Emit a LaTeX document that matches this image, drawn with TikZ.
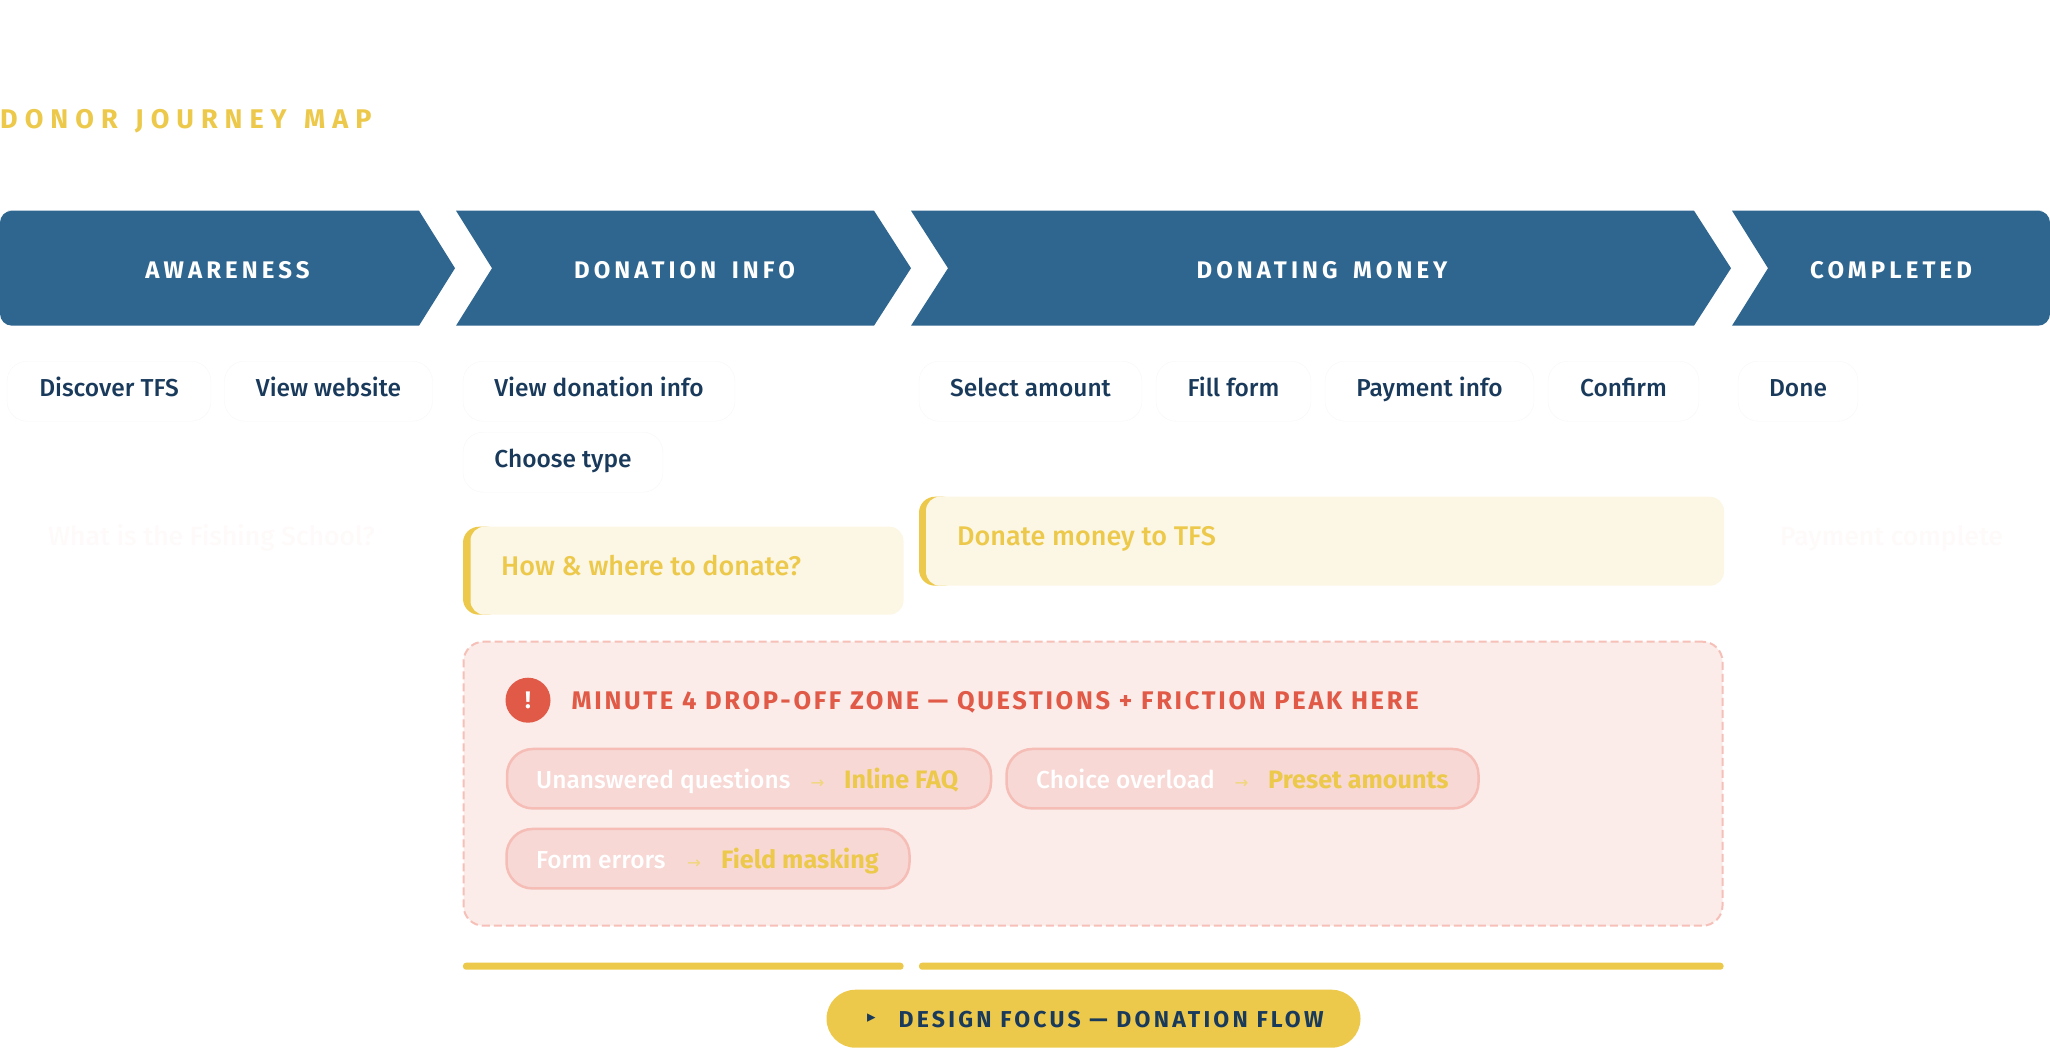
\documentclass[tikz,border=0pt]{standalone}
\usepackage{fontspec}
\usepackage{xcolor}
\usetikzlibrary{positioning}
\setmainfont{Fira Sans}
\newfontfamily\medfont{Fira Sans Medium}
\newfontfamily\symfont{DejaVu Sans}
\newfontfamily\titlefont[LetterSpace=26,WordSpace=1.3]{Fira Sans}
\newfontfamily\stagefont[LetterSpace=17,WordSpace=1.6]{Fira Sans}
\newfontfamily\zonefont[LetterSpace=10.5]{Fira Sans}
\newfontfamily\focusfont[LetterSpace=14]{Fira Sans}
\definecolor{primary}{RGB}{46, 102, 144}
\definecolor{navy}{RGB}{26, 58, 92}
\definecolor{gold}{RGB}{236, 201, 75}
\definecolor{creambg}{RGB}{252, 246, 228}
\definecolor{alertred}{RGB}{224, 90, 71}
\definecolor{zonebg}{RGB}{251, 236, 233}
\definecolor{zoneline}{RGB}{246, 192, 184}
\definecolor{chipbg}{RGB}{247, 216, 213}
\definecolor{chipline}{RGB}{245, 189, 181}
\definecolor{pillline}{RGB}{249, 247, 247}
\definecolor{ghost}{RGB}{254, 250, 250}

\begin{document}
\begin{tikzpicture}[
			x=1pt, y=-1pt,
			stage/.style={font=\stagefont\fontsize{24}{28}\selectfont\bfseries, text=white},
			touch/.style={rectangle, draw=pillline, fill=white, rounded corners=20, minimum height=60, inner sep=0pt, text=navy, text height=18, text depth=7, font=\medfont\fontsize{24.5}{30}\selectfont},
			goal/.style={anchor=west, inner sep=0pt, text=gold, text height=18, text depth=8, font=\medfont\fontsize{27}{32}\selectfont},
			ghostline/.style={anchor=center, inner sep=0pt, text=ghost, text height=18, text depth=8, font=\medfont\fontsize{26.5}{32}\selectfont},
			chip/.style={rectangle, draw=chipline, fill=chipbg, line width=2.5pt, rounded corners=26, minimum height=59.5, inner sep=0pt},
			pain/.style={anchor=west, inner sep=0pt, text=white, text height=17, text depth=8, font=\medfont\fontsize{24.5}{30}\selectfont},
			fix/.style={anchor=west, inner sep=0pt, text=gold, text height=17, text depth=8, font=\fontsize{25.2}{30}\selectfont\bfseries},
			fixarrow/.style={anchor=center, inner sep=0pt, text=gold!75, font=\symfont\fontsize{16.5}{18}\selectfont},
			focusbar/.style={fill=gold, rounded corners=3}
			]
			\useasboundingbox (0,-0.7) rectangle (2050,1059.3);
			
			% Title
			\node[anchor=west, inner sep=0pt, text=gold, font=\titlefont\fontsize{27}{32}\selectfont\bfseries] (title) at (0,120.5) {DONOR JOURNEY MAP};
			
			% Stage chevrons
			\fill[primary, rounded corners=12] (0,210) -- (20,210) [sharp corners] -- (419,210) -- (455,267.5) -- (419,325) [rounded corners=12] -- (0,325) -- cycle;
			\fill[primary] (456,210) -- (874,210) -- (911,267.5) -- (874,325) -- (456,325) -- (492,267.5) -- cycle;
			\fill[primary] (911,210) -- (1694,210) -- (1731,267.5) -- (1694,325) -- (911,325) -- (948,267.5) -- cycle;
			\fill[primary, rounded corners=12] (2030,325) -- (2050,325) -- (2050,210) -- (2030,210) [sharp corners] -- (1732,210) -- (1768,267.5) -- (1732,325) -- cycle;
			\node[stage] (awareness) at (227.5,269) {AWARENESS};
			\node[stage] (info) at (684.5,269) {DONATION INFO};
			\node[stage] (money) at (1322,269) {DONATING MONEY};
			\node[stage] (completed) at (1891,269) {COMPLETED};
			
			% Touchpoints
			\node[touch, minimum width=204] (discover) at (109,390.5) {Discover TFS};
			\node[touch, minimum width=208] (website) at (328.5,390.5) {View website};
			\node[touch, minimum width=272] (viewinfo) at (599,390.5) {View donation info};
			\node[touch, minimum width=200] (choose) at (563,461.5) {Choose type};
			\node[touch, minimum width=223] (amount) at (1030.5,390.5) {Select amount};
			\node[touch, minimum width=155] (form) at (1233.5,390.5) {Fill form};
			\node[touch, minimum width=209] (payment) at (1429.5,390.5) {Payment info};
			\node[touch, minimum width=151] (confirm) at (1623.5,390.5) {Confirm};
			\node[touch, minimum width=120] (done) at (1798,390.5) {Done};
			
			% Goals
			\node[ghostline] (goalfish) at (211.5,540) {What is the Fishing School?};
			\node[ghostline] (goalpaid) at (1891.5,540) {Payment complete};
			
			\node[rectangle, fill=gold, rounded corners=16, minimum width=40, minimum height=88, inner sep=0pt] (howbar) at (483,570) {};
			\node[rectangle, fill=creambg, rounded corners=14, minimum width=433, minimum height=88, inner sep=0pt] (howbox) at (687,570) {};
			\node[goal] (how) at (501,570) {How \& where to donate?};
			
			\node[rectangle, fill=gold, rounded corners=16, minimum width=40, minimum height=89, inner sep=0pt] (donatebar) at (939,540.5) {};
			\node[rectangle, fill=creambg, rounded corners=14, minimum width=798, minimum height=89, inner sep=0pt] (donatebox) at (1325,540.5) {};
			\node[goal] (donate) at (957,540) {Donate money to TFS};
			
			% Drop-off zone
			\node[rectangle, draw=zoneline, fill=zonebg, dashed, line width=2pt, dash pattern=on 8pt off 4pt, rounded corners=20, minimum width=1259, minimum height=284, inner sep=0pt] (zone) at (1093,783) {};
			\node[circle, fill=alertred, minimum size=45, inner sep=0pt, text=white, font=\fontsize{24}{28}\selectfont\bfseries] (alert) at (528,699.5) {!};
			\node[anchor=west, inner sep=0pt, text=alertred, font=\zonefont\fontsize{25.5}{30}\selectfont\bfseries] (zonetitle) at (571.5,701.5) {MINUTE 4 DROP-OFF ZONE — QUESTIONS + FRICTION PEAK HERE};
			
			% Chips
			\node[chip, minimum width=484] (chipfaq) at (749,778) {};
			\node[pain] (q) at (536,783) {Unanswered questions};
			\node[fixarrow] (qarrow) at (817.5,783.5) {→};
			\node[fix] (faq) at (844,783) {Inline FAQ};
			
			\node[chip, minimum width=472] (chippreset) at (1242.5,778) {};
			\node[pain] (choice) at (1036,783) {Choice overload};
			\node[fixarrow] (choicearrow) at (1241.5,783.5) {→};
			\node[fix] (preset) at (1268,783) {Preset amounts};
			
			\node[chip, minimum width=403] (chipmask) at (708,858) {};
			\node[pain] (errors) at (536,863) {Form errors};
			\node[fixarrow] (errorsarrow) at (694,863.5) {→};
			\node[fix] (mask) at (721,863) {Field masking};
			
			% Focus bars
			\fill[focusbar] (463,962) rectangle (903.5,969);
			\fill[focusbar] (919,962) rectangle (1723.5,969);
			\node[rectangle, fill=gold, rounded corners=29, minimum width=534, minimum height=58, inner sep=0pt] (focus) at (1093.5,1018) {};
			\node[anchor=center, inner sep=0pt, text=navy, font=\symfont\fontsize{17}{20}\selectfont] (focusmark) at (871.5,1017) {▸};
			\node[anchor=west, inner sep=0pt, text=navy, font=\focusfont\fontsize{23}{28}\selectfont\bfseries] (focustext) at (898.5,1019) {DESIGN FOCUS — DONATION FLOW};
		\end{tikzpicture}
\end{document}
